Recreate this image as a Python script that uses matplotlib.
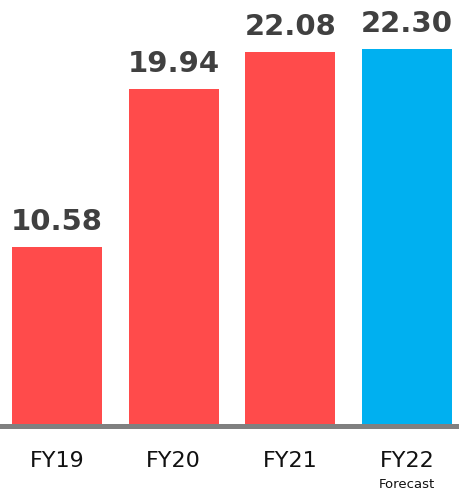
import matplotlib
matplotlib.use("Agg")
import matplotlib.pyplot as plt

# values
years = ["FY19", "FY20", "FY21", "FY22"]
values = [10.58, 19.94, 22.08, 22.30]
colors = ["#FF4B4B", "#FF4B4B", "#FF4B4B", "#00B0F0"]

fig = plt.figure(figsize=(4.6, 4.91), dpi=100)
ax = fig.add_axes([0, 65 / 491, 1, 426 / 491])

x = range(len(years))
ax.bar(x, values, width=0.77, color=colors, zorder=2)

for i, v in zip(x, values):
    ax.annotate(f"{v:.2f}", (i, v), xytext=(0, 8), textcoords="offset points",
                ha="center", va="bottom", fontsize=21, fontweight="bold",
                color="#404040")

ax.set_xlim(-0.488, 3.454)
ax.set_ylim(0, 25.18)
ax.axhline(0, color="#808080", lw=3.6, zorder=3, clip_on=False)

for s in ax.spines.values():
    s.set_visible(False)
ax.set_yticks([])
ax.set_xticks(list(x))
ax.set_xticklabels(years, fontsize=16, color="#111111")
ax.tick_params(axis="x", length=0, pad=18)

# small note under FY22
ax.text(3, -59 / 426, "Forecast", transform=ax.get_xaxis_transform(),
        ha="center", va="center", fontsize=9.5, color="#111111")

fig.savefig("out.png", dpi=100)
